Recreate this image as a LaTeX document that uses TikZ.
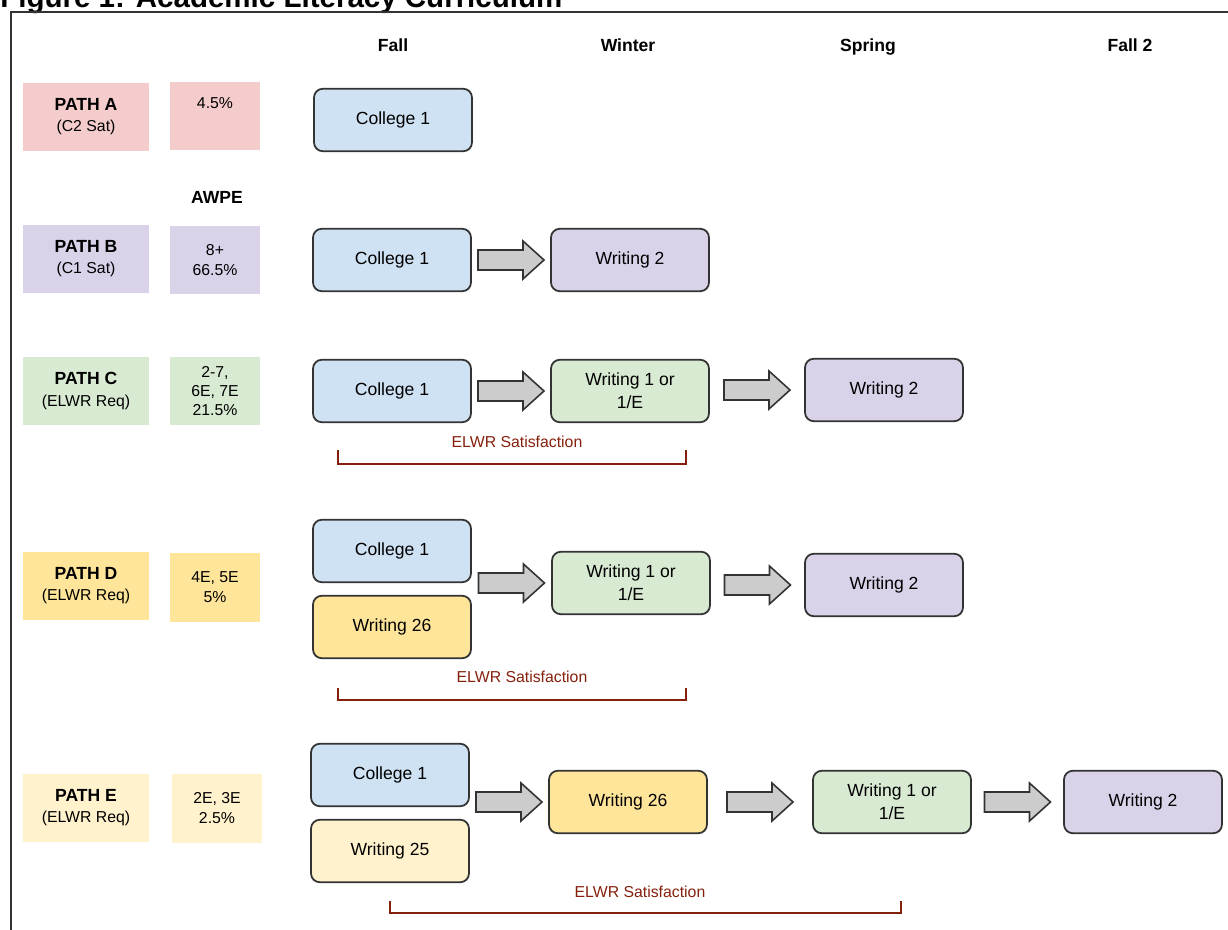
\documentclass[tikz,border=0pt]{standalone}
\usepackage{fontspec}
\setmainfont{Liberation Sans}
\usetikzlibrary{calc}

\definecolor{pathA}{HTML}{F4CCCC}
\definecolor{pathB}{HTML}{D9D2E9}
\definecolor{pathC}{HTML}{D9EAD3}
\definecolor{pathD}{HTML}{FFE599}
\definecolor{pathE}{HTML}{FFF2CC}
\definecolor{college}{HTML}{CFE2F3}
\definecolor{arrowgray}{HTML}{CCCCCC}
\definecolor{linegray}{HTML}{333333}
\definecolor{elwr}{HTML}{85200C}

% block arrow, centred in the gap between two boxes
\newcommand{\flowarrow}[2]{%
  \draw[flow] let \p1=(#1.east), \p2=(#2.west) in
    ({(\x1+\x2)/2-18.78pt},{\y2+5.69pt}) -- ++(25.61pt,0) -- ++(0,5.11pt)
    -- ++(11.95pt,-10.8pt) -- ++(-11.95pt,-10.8pt) -- ++(0,5.11pt)
    -- ++(-25.61pt,0) -- cycle;}

\begin{document}
\begin{tikzpicture}[x=0.02cm,y=-0.02cm,
    term/.style={anchor=base,font=\bfseries\fontsize{10}{12}\selectfont},
    pathbox/.style={fill=#1,minimum width=2.54cm,minimum height=1.36cm,
      align=center,inner sep=0pt,font=\fontsize{9}{12}\selectfont},
    awpebox/.style={fill=#1,minimum width=1.8cm,minimum height=1.38cm,
      align=center,inner sep=0pt,font=\fontsize{9}{11}\selectfont},
    course/.style={draw=linegray,fill=#1,rounded corners=5pt,line width=1pt,
      minimum width=3.16cm,minimum height=1.25cm,align=center,inner sep=0pt,
      font=\fontsize{10}{13}\selectfont},
    flow/.style={draw=linegray,fill=arrowgray,line width=0.9pt},
    satline/.style={draw=elwr,line width=0.8pt},
    satlabel/.style={text=elwr,font=\fontsize{9}{11}\selectfont}]

  \useasboundingbox (0,0) rectangle (1228,930);
  \clip (0,0) rectangle (1228,930);

  % title and frame
  \node[anchor=base west,inner sep=0pt,font=\bfseries\fontsize{16.8}{20}\selectfont]
    (title) at (0,7) {Figure 1: Academic Literacy Curriculum};
  \draw[linegray,line width=1.4pt] (1240,12) -- (11,12) -- (11,945);

  % terms
  \node[term] (fall)    at (393,51)  {Fall};
  \node[term] (winter)  at (628,51)  {Winter};
  \node[term] (spring)  at (868,51)  {Spring};
  \node[term] (fallb)   at (1130,51) {Fall 2};
  \node[term] (awpe)    at (217,203) {AWPE};

  % paths
  \foreach \p/\y/\c/\s in {A/117/pathA/C2 Sat, B/259/pathB/C1 Sat,
      C/391/pathC/ELWR Req, D/586/pathD/ELWR Req, E/808/pathE/ELWR Req}
    \node[pathbox=\c] (path\p) at (86,\y)
      {{\bfseries\fontsize{10}{12}\selectfont PATH \p}\\(\s)};

  % AWPE scores
  \node[awpebox=pathA] (scoreA) at (215,116) {4.5\%\\\strut};
  \node[awpebox=pathB] (scoreB) at (215,260) {8+\\66.5\%};
  \node[awpebox=pathC] (scoreC) at (215,391) {2-7,\\6E, 7E\\21.5\%};
  \node[awpebox=pathD] (scoreD) at (215,587) {4E, 5E\\5\%};
  \node[awpebox=pathE] (scoreE) at (217,808) {2E, 3E\\2.5\%};

  % path A
  \node[course=college] (colA) at (393,120) {College 1};

  % path B
  \node[course=college] (colB) at (392,260) {College 1};
  \node[course=pathB]   (wtwoB) at (630,260) {Writing 2};
  \flowarrow{colB}{wtwoB}

  % path C
  \node[course=college] (colC) at (392,391) {College 1};
  \node[course=pathC]   (woneC) at (630,391) {Writing 1 or\\1/E};
  \node[course=pathB]   (wtwoC) at (884,390) {Writing 2};
  \flowarrow{colC}{woneC}
  \flowarrow{woneC}{wtwoC}
  \node[satlabel] (satC) at (517,442) {ELWR Satisfaction};
  \draw[satline] (338,450) |- (686,464) -- (686,450);

  % path D
  \node[course=college] (colD) at (392,551) {College 1};
  \node[course=pathD]   (wtsD) at (392,627) {Writing 26};
  \node[course=pathC]   (woneD) at (631,583) {Writing 1 or\\1/E};
  \node[course=pathB]   (wtwoD) at (884,585) {Writing 2};
  \flowarrow{colD}{woneD}
  \flowarrow{woneD}{wtwoD}
  \node[satlabel] (satD) at (522,677) {ELWR Satisfaction};
  \draw[satline] (338,688) |- (686,700) -- (686,688);

  % path E
  \node[course=college] (colE) at (390,775) {College 1};
  \node[course=pathE]   (wtfE) at (390,851) {Writing 25};
  \node[course=pathD]   (wtsE) at (628,802) {Writing 26};
  \node[course=pathC]   (woneE) at (892,802) {Writing 1 or\\1/E};
  \node[course=pathB]   (wtwoE) at (1143,802) {Writing 2};
  \flowarrow{colE}{wtsE}
  \flowarrow{wtsE}{woneE}
  \flowarrow{woneE}{wtwoE}
  \node[satlabel] (satE) at (640,892) {ELWR Satisfaction};
  \draw[satline] (390,901) |- (901,913) -- (901,901);

\end{tikzpicture}
\end{document}
